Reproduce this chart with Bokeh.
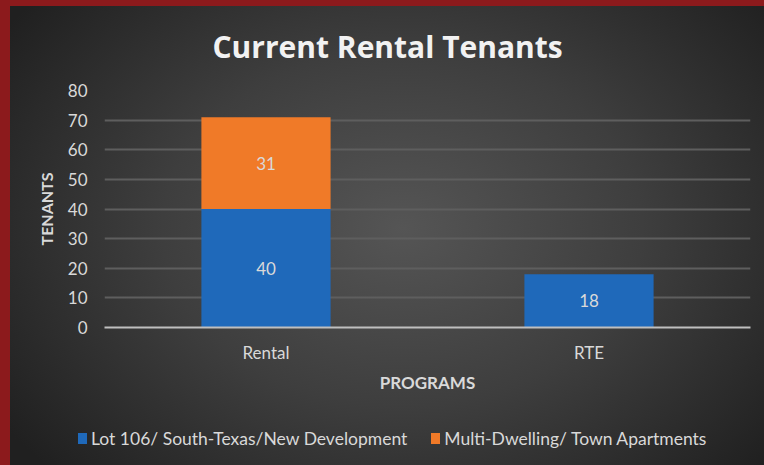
from bokeh.plotting import figure
from bokeh.layouts import column
from bokeh.models import ColumnDataSource, Range1d, Div
from bokeh.core.properties import value
from bokeh.embed import file_html
from bokeh.resources import INLINE

# ---- data ----
programs = ["Rental", "RTE"]
series_names = ["Lot 106/ South-Texas/New Development", "Multi-Dwelling/ Town Apartments"]
lot106 = [40, 18]
multi = [31, 0]
y_ticks = [0, 10, 20, 30, 40, 50, 60, 70, 80]
title_text = "Current Rental Tenants"
x_label = "PROGRAMS"
y_label = "TENANTS"

FONT = "Lato"
TXT = "#d9d9d9"
BLUE = "#1f69ba"
ORANGE = "#f07a28"
series_colors = [BLUE, ORANGE]

src = ColumnDataSource(dict(programs=programs, lot106=lot106, multi=multi))

p = figure(x_range=programs, y_range=Range1d(0, 80), width=764, height=405,
           output_backend="svg", toolbar_location=None,
           min_border_left=104, min_border_right=14, min_border_top=90, min_border_bottom=78)
p.border_fill_color = None
p.background_fill_color = None
p.outline_line_color = None

r = p.vbar_stack(["lot106", "multi"], x="programs", width=0.4, source=src,
                 color=series_colors, line_color=None)

# data labels
lab_x, lab_y, lab_t = [], [], []
for i, prog in enumerate(programs):
    if lot106[i] > 0:
        lab_x.append(prog); lab_y.append(lot106[i] / 2); lab_t.append(str(lot106[i]))
    if multi[i] > 0:
        lab_x.append(prog); lab_y.append(lot106[i] + multi[i] / 2); lab_t.append(str(multi[i]))
p.text(x=lab_x, y=lab_y, text=lab_t, text_color=TXT, text_font=value(FONT),
       text_font_size="17px", text_align="center", text_baseline="middle")

# title
p.title.text = title_text
p.title.text_color = "#f2f2f2"
p.title.text_font = "Open Sans"
p.title.text_font_size = "30px"
p.title.text_font_style = "bold"
p.title.align = "left"
p.title.offset = 108
p.title.standoff = 47

# axes
p.yaxis.ticker = y_ticks
p.yaxis.axis_line_color = None
p.yaxis.major_tick_line_color = None
p.yaxis.minor_tick_line_color = None
p.yaxis.major_label_text_color = TXT
p.yaxis.major_label_text_font = FONT
p.yaxis.major_label_text_font_size = "17px"
p.yaxis.major_label_standoff = 11
p.yaxis.axis_label = y_label
p.yaxis.axis_label_text_color = TXT
p.yaxis.axis_label_text_font = FONT
p.yaxis.axis_label_text_font_size = "16px"
p.yaxis.axis_label_text_font_style = "bold"
p.yaxis.axis_label_standoff = 9

p.xaxis.axis_line_color = "#bfbfbf"
p.xaxis.axis_line_width = 2
p.xaxis.major_tick_line_color = None
p.xaxis.minor_tick_line_color = None
p.xaxis.major_label_text_color = TXT
p.xaxis.major_label_text_font = FONT
p.xaxis.major_label_text_font_size = "17px"
p.xaxis.major_label_standoff = 8
p.xaxis.axis_label = x_label
p.xaxis.axis_label_text_color = TXT
p.xaxis.axis_label_text_font = FONT
p.xaxis.axis_label_text_font_size = "17px"
p.xaxis.axis_label_text_font_style = "bold"
p.xaxis.axis_label_standoff = 6

p.xgrid.grid_line_color = None
p.ygrid.grid_line_color = "#5e5e5e"
p.ygrid.grid_line_width = 2

# ---- legend strip (HTML) ----
items_html = ""
for i, (name, col) in enumerate(zip(series_names, series_colors)):
    gap = "0" if i == 0 else "24px"
    items_html += (
        f'<span style="display:inline-flex;align-items:center;margin-left:{gap};">'
        f'<span style="display:inline-block;width:9px;height:11px;background:{col};'
        f'margin-right:4px;"></span>{name}</span>')
legend_div = Div(
    text=(f'<div style="display:flex;align-items:center;height:56px;padding-left:73px;'
          f'box-sizing:border-box;font-family:{FONT};font-size:17.5px;color:{TXT};'
          f'white-space:nowrap;">{items_html}</div>'),
    width=764, height=60)

layout = column(p, legend_div, spacing=0)
layout.styles = {"background":
    "linear-gradient(to right, #8c1a1c 10px, transparent 10px), "
    "linear-gradient(to bottom, #8c1a1c 6px, transparent 6px), "
    "radial-gradient(ellipse 62% 75% at 52% 48%, #555555 0%, #3e3e3e 50%, #202020 100%)"}

open("out.html", "w").write(file_html(layout, INLINE))
